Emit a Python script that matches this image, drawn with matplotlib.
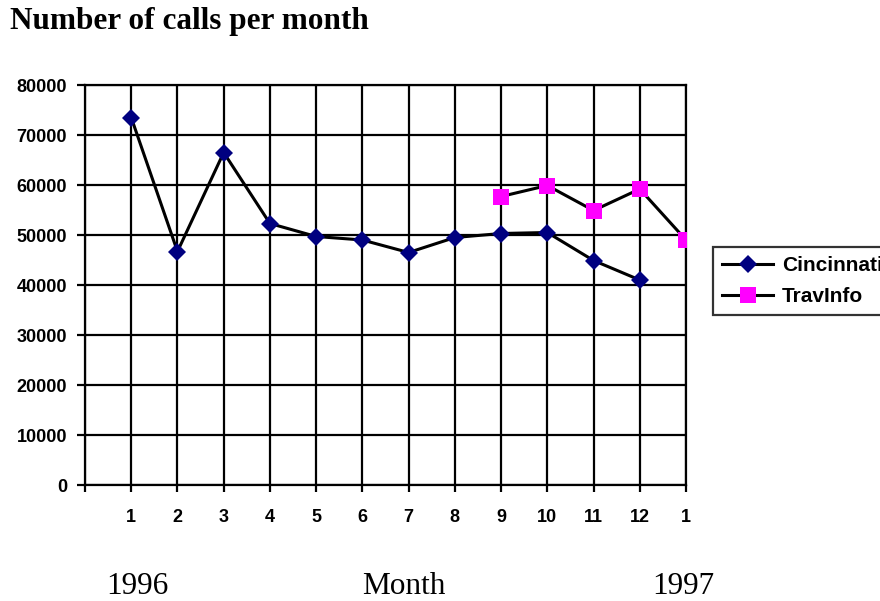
"""
Number of calls per month, Cincinnati vs TravInfo.
"""

import matplotlib.pyplot as plt
import numpy as np

# data
month_labels = ['1', '2', '3', '4', '5', '6', '7', '8', '9', '10', '11', '12', '1']
cincinnati = [73500, 46700, 66500, 52300, 49700, 49000, 46500, 49500,
              50300, 50500, 44900, 41000, np.nan]
travinfo = [np.nan, np.nan, np.nan, np.nan, np.nan, np.nan, np.nan, np.nan,
            57700, 59900, 54900, 59200, 49000]
y_ticks = [0, 10000, 20000, 30000, 40000, 50000, 60000, 70000, 80000]

W, H = 880, 601
fig = plt.figure(figsize=(W / 100, H / 100), dpi=100)
ax = fig.add_axes([85 / W, 1 - 485 / H, 601 / W, 400 / H])

x = np.arange(1, len(month_labels) + 1)

ax.plot(x, cincinnati, color='black', lw=2.2, marker='D', markersize=9.5,
        markerfacecolor='#000080', markeredgewidth=0, zorder=3,
        label='Cincinnati')
ax.plot(x, travinfo, color='black', lw=2.2, marker='s', markersize=11.5,
        markerfacecolor='#FF00FF', markeredgewidth=0, zorder=3,
        label='TravInfo')

ax.set_xlim(0, len(month_labels))
ax.set_ylim(0, 80000)
ax.set_xticks(np.arange(0, len(month_labels) + 1))
ax.set_xticklabels([''] + month_labels)
ax.set_yticks(y_ticks)
ax.set_yticklabels([str(v) for v in y_ticks])

ax.grid(True, color='black', lw=1.6)
ax.set_axisbelow(True)
for sp in ax.spines.values():
    sp.set_color('black')
    sp.set_linewidth(1.6)

tick_font = dict(family='Liberation Sans', weight='bold', size=13)
ax.tick_params(axis='y', length=6, width=1.6, pad=7, direction='out')
ax.tick_params(axis='x', length=5, width=1.6, pad=12, direction='out')
for lab in ax.get_xticklabels() + ax.get_yticklabels():
    lab.set_fontproperties(tick_font)

# legend sits partly outside the figure, as in the original
leg = fig.legend(loc='upper left', bbox_to_anchor=(713 / W, 1 - 247 / H),
                 prop=dict(family='Liberation Sans', weight='bold', size=15),
                 frameon=True, fancybox=False, handlelength=2.45,
                 handletextpad=0.4, borderpad=0.45, labelspacing=0.55,
                 borderaxespad=0)
leg.get_frame().set_edgecolor('black')
leg.get_frame().set_linewidth(1.6)

serif = 'Liberation Serif'
fig.text(10 / W, 1 - 29 / H, 'Number of calls per month', family=serif,
         weight='bold', size=22.5, ha='left', va='baseline')
fig.text(137 / W, 1 - 594 / H, '1996', family=serif, size=22.5,
         ha='center', va='baseline')
fig.text(404 / W, 1 - 594 / H, 'Month', family=serif, size=22.5,
         ha='center', va='baseline')
fig.text(683 / W, 1 - 594 / H, '1997', family=serif, size=22.5,
         ha='center', va='baseline')

fig.savefig('out.png', dpi=100)
plt.close(fig)
